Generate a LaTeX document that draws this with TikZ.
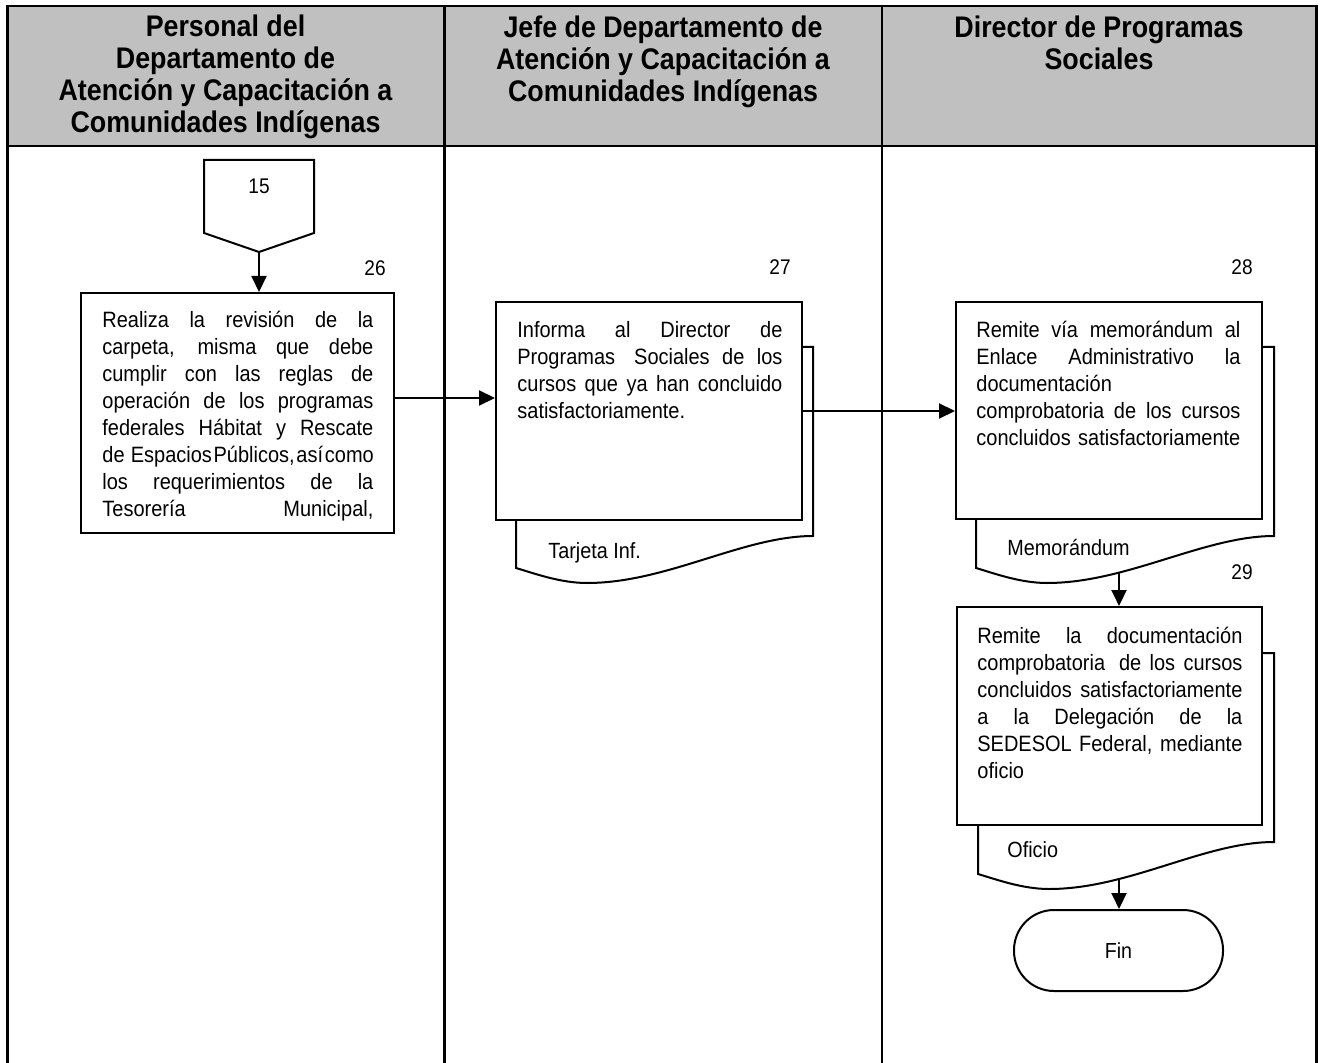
\documentclass[tikz,border=0pt]{standalone}
\usepackage{fontspec}
\setmainfont{Liberation Sans}[FakeStretch=0.9]
\usetikzlibrary{arrows.meta}

\definecolor{headgray}{RGB}{192,192,192}

% one justified line spanning the full text width
\newcommand\jl[1]{\makebox[\hsize][s]{\spaceskip=0.26em plus 1fil\relax #1}}
% back sheet of a document symbol: left, top, right, bottom-left y
\newcommand\docback[4]{%
  \filldraw[docline] (#1,#2) -- (#3,#2) -- (#3,{#4-32})
    .. controls ({#3-70},{#4-32}) and ({#1+151},{#4+15}) .. ({#1+71},{#4+15})
    .. controls ({#1+45},{#4+15}) and ({#1+20},{#4+6}) .. (#1,#4) -- cycle;}

\tikzset{
  frameline/.style={line width=1.4pt},
  docline/.style={line width=1pt, fill=white},
  procbox/.style={draw, line width=1pt, fill=white, inner sep=0pt},
  headtext/.style={inner sep=0pt, align=center,
    font=\fontsize{14.9}{16}\selectfont\bfseries},
  bodytext/.style={inner sep=0pt, align=left,
    font=\fontsize{11.1}{13.5}\selectfont},
  numtext/.style={inner sep=0pt, font=\fontsize{10.6}{12}\selectfont},
  doclabel/.style={inner sep=0pt, anchor=base west,
    font=\fontsize{11}{13}\selectfont},
  arr/.style={line width=1pt, -{Triangle[length=8pt,width=7.5pt]}},
}

\begin{document}
\begin{tikzpicture}[x=0.5pt, y=-0.5pt]
\useasboundingbox (0,0) rectangle (1320,1063);
\fill[white] (0,0) rectangle (1320,1063);

% swimlane frame and headers
\fill[headgray] (7.5,6) rectangle (1316.5,146);
\draw[frameline] (7.5,1063) -- (7.5,6) -- (1316.5,6) -- (1316.5,1063);
\draw[frameline] (444.5,6) -- (444.5,1063);
\draw[frameline] (882,6) -- (882,1063);
\draw[frameline] (7.5,146) -- (1316.5,146);

\node[headtext, anchor=north] (h1) at (225.5,8.5)
  {\rule{0pt}{14pt}Personal del\\Departamento de\\Atención y Capacitación a\\Comunidades Indígenas};
\node[headtext, anchor=north] (h2) at (663,9)
  {\rule{0pt}{14pt}Jefe de Departamento de\\Atención y Capacitación a\\Comunidades Indígenas};
\node[headtext, anchor=north] (h3) at (1099,9.5)
  {\rule{0pt}{14pt}Director de Programas\\Sociales};

% off-page connector 15
\draw[line width=1pt] (204,160) -- (314,160) -- (314,233) -- (259,252) -- (204,233) -- cycle;
\node[numtext] (n15) at (259,186) {15};
\coordinate (p15) at (259,252);

% step 26
\node[numtext] (l26) at (375,268) {26};
\node[procbox, minimum width=156.5pt, minimum height=120pt] (b26) at (237.5,413) {};
\node[bodytext, text width=135.5pt, anchor=north west] (t26) at (102,303) {%
\jl{\rule{0pt}{12pt}Realiza la revisión de la}\\
\jl{carpeta, misma que debe}\\
\jl{cumplir con las reglas de}\\
\jl{operación de los programas}\\
\jl{federales Hábitat y Rescate}\\
\jl{\spaceskip=0.08em plus 1em\relax de\hspace{0.2em} Espacios Públicos, así como}\\
\jl{los requerimientos de la}\\
\jl{Tesorería Municipal,}};

% step 27
\node[numtext] (l27) at (780,267) {27};
\docback{516}{347}{813}{568}
\node[procbox, minimum width=153pt, minimum height=109pt] (b27) at (649,411) {};
\node[bodytext, text width=132.5pt, anchor=north west] (t27) at (517,313) {%
\jl{\rule{0pt}{12pt}Informa al Director de}\\
\jl{Programas\hspace{0.3em} Sociales de los}\\
\jl{cursos que ya han concluido}\\
satisfactoriamente.};
\node[doclabel] (d27) at (548,558) {Tarjeta Inf.};

% step 28
\node[numtext] (l28) at (1242,267) {28};
\docback{976}{347}{1274}{568}
\node[procbox, minimum width=153pt, minimum height=108.5pt] (b28) at (1109,410.5) {};
\node[bodytext, text width=132pt, anchor=north west] (t28) at (976,313) {%
\jl{\rule{0pt}{12pt}Remite vía memorándum al}\\
\jl{Enlace Administrativo la}\\
documentación\\
\jl{comprobatoria de los cursos}\\
concluidos satisfactoriamente};
\node[doclabel] (d28) at (1007,555) {Memorándum};
\coordinate (w28) at (1119,572);

% step 29
\node[numtext] (l29) at (1242,572) {29};
\docback{978}{653}{1274}{874}
\node[procbox, minimum width=152.5pt, minimum height=109pt] (b29) at (1109.5,716) {};
\node[bodytext, text width=132.5pt, anchor=north west] (t29) at (977,619) {%
\jl{\rule{0pt}{12pt}Remite la documentación}\\
\jl{comprobatoria\hspace{0.25em} de los cursos}\\
\jl{concluidos satisfactoriamente}\\
\jl{a la Delegación de la}\\
\jl{SEDESOL Federal, mediante}\\
oficio};
\node[doclabel] (d29) at (1007,857) {Oficio};
\coordinate (w29) at (1119,878);

% end
\node[procbox, rounded corners=20pt, minimum width=104.5pt, minimum height=40.5pt,
  font=\fontsize{10.9}{13}\selectfont] (fin) at (1118.5,950.5) {Fin};

% connectors
\draw[arr] (p15) -- (p15 |- b26.north);
\draw[arr] ([yshift=7.5pt]b26.east) -- ([yshift=7.5pt]b26.east -| b27.west);
\draw[arr] (b27.east) -- (b27.east -| b28.west);
\draw[arr] (w28) -- (w28 |- b29.north);
\draw[arr] (w29) -- (w29 |- fin.north);
\end{tikzpicture}
\end{document}
